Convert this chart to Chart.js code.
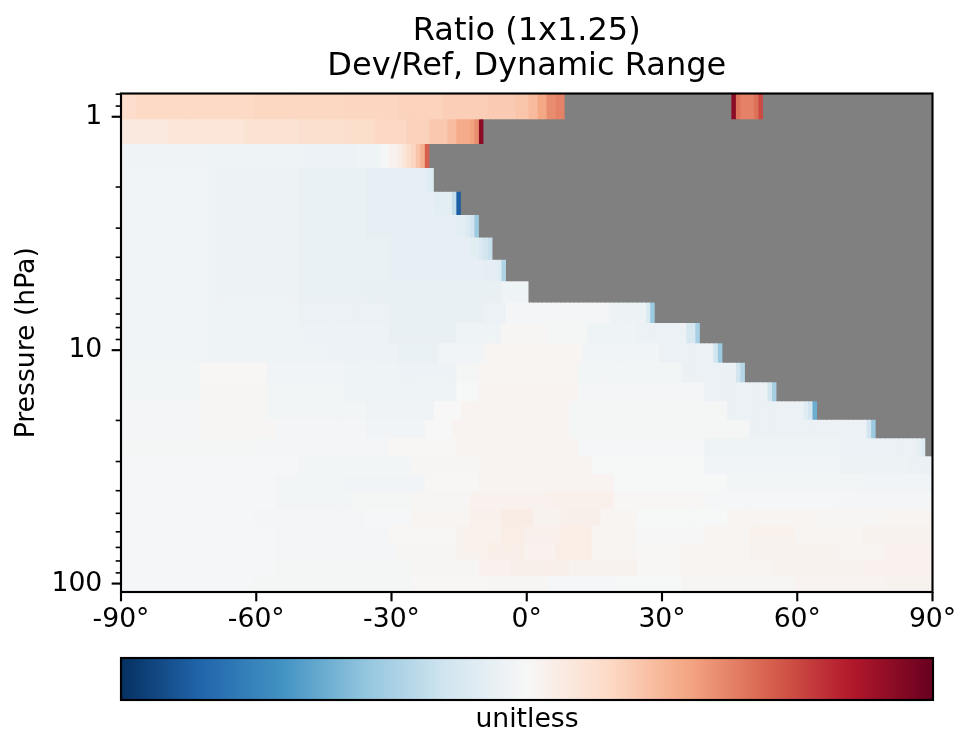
<!DOCTYPE html>
<html>
<head>
<meta charset="utf-8">
<script src="https://cdn.jsdelivr.net/npm/chart.js@4.4.1/dist/chart.umd.min.js"></script>
<style>
  html, body { margin: 0; padding: 0; background: #fff; }
  #wrap { position: relative; width: 957px; height: 739px; }
  #main { position: absolute; left: 0; top: 0; }
  #cbar { position: absolute; left: 0; top: 640px; }
</style>
</head>
<body>
<div id="wrap">
  <canvas id="main" width="957" height="640"></canvas>
  <canvas id="cbar" width="957" height="99"></canvas>
</div>
<script>
// ── DATA ─────────────────────────────────────────────────────────────────────

// pressure level edges (hPa), top of plot to bottom
var levelEdges = [0.7951, 1.0194, 1.3005, 1.6508, 2.0850, 2.6202, 3.2764, 4.0766, 5.0468,
  6.2168, 7.6198, 9.2929, 11.2769, 13.6434, 16.4571, 19.7916, 23.7304, 28.3678, 33.8100,
  40.1754, 47.6439, 56.3879, 66.6034, 78.5123, 92.3657, 108.663];

// Dev/Ref ratio along each level, as [from latitude, value] runs (null = no data)
var lev00 = [[-90,1.037],[-86,1.041],[-60,1.043],[-40,1.044],[-28,1.046],[-18,1.049],[-8,1.052],[-2,1.056],[1,1.064],[3,1.078],[5,1.094],[7,1.100],[9,null],[46,1.181],[47,1.110],[48,1.101],[51,1.110],[52,1.132],[53,null]];
var lev01 = [[-90,1.020],[-79,1.025],[-62,1.029],[-50,1.033],[-40,1.036],[-33,1.042],[-26,1.047],[-21,1.054],[-17,1.062],[-15,1.076],[-12,1.082],[-11,1.094],[-10,1.181],[-9,null]];
var lev02 = [[-90,0.992],[-70,0.990],[-50,0.988],[-37,0.990],[-32,0.998],[-30,1.008],[-28,1.016],[-27,1.026],[-26,1.036],[-25,1.044],[-24,1.057],[-23,1.072],[-22,1.120],[-21,null]];
var lev03 = [[-90,0.993],[-70,0.989],[-50,0.986],[-35,0.983],[-22,0.978],[-21,0.972],[-20,null]];
var lev04 = [[-90,0.993],[-70,0.989],[-50,0.986],[-35,0.983],[-20,0.979],[-16,0.953],[-15,0.835],[-14,null]];
var lev05 = [[-90,0.993],[-70,0.989],[-50,0.986],[-35,0.983],[-15,0.979],[-13,0.972],[-12,0.962],[-11,0.926],[-10,null]];
var lev06 = [[-90,0.993],[-70,0.989],[-50,0.986],[-30,0.983],[-12,0.979],[-10,0.970],[-9,0.962],[-8,0.954],[-7,null]];
var lev07 = [[-90,0.993],[-70,0.989],[-50,0.986],[-30,0.983],[-9,0.981],[-6,0.975],[-5,0.939],[-4,null]];
var lev08 = [[-90,0.993],[-70,0.989],[-50,0.986],[-35,0.984],[-10,0.985],[-5,0.990],[1,null]];
var lev09 = [[-90,0.994],[-70,0.990],[-50,0.987],[-30,0.984],[-9,0.987],[-4,0.996],[19,0.989],[27,0.972],[28,0.926],[29,null]];
var lev10 = [[-90,0.994],[-70,0.991],[-50,0.988],[-30,0.985],[-15,0.990],[-5,1.003],[5,0.997],[14,0.991],[25,0.987],[36,0.966],[38,0.934],[39,null]];
var lev11 = [[-90,0.994],[-70,0.991],[-45,0.988],[-28,0.986],[-19,0.993],[-9,1.004],[13,0.994],[30,0.987],[42,0.962],[43,0.926],[44,null]];
var lev12 = [[-90,0.995],[-72,1.002],[-57,0.993],[-40,0.990],[-28,0.988],[-15,0.997],[-10,1.005],[12,0.995],[35,0.987],[47,0.962],[48,0.942],[49,null]];
var lev13 = [[-90,0.995],[-72,1.003],[-57,0.995],[-40,0.991],[-28,0.990],[-15,0.999],[-10,1.006],[12,0.996],[40,0.987],[54,0.962],[55,0.933],[56,null]];
var lev14 = [[-90,0.996],[-72,1.003],[-57,0.995],[-35,0.992],[-20,1.000],[-14,1.006],[10,0.997],[45,0.987],[62,0.976],[63,0.962],[64,0.900],[65,null]];
var lev15 = [[-90,0.996],[-72,1.003],[-55,0.996],[-35,0.993],[-22,1.000],[-16,1.006],[10,0.997],[50,0.987],[76,0.962],[77,0.926],[78,null]];
var lev16 = [[-90,0.997],[-60,0.996],[-30,1.002],[-15,1.006],[12,0.998],[40,0.991],[70,0.987],[87,0.982],[88,0.974],[89,null]];
var lev17 = [[-90,0.998],[-50,0.995],[-25,1.003],[-10,1.006],[15,0.999],[40,0.994],[70,0.989],[85,0.987]];
var lev18 = [[-90,0.998],[-55,0.995],[-40,0.994],[-22,1.002],[-10,1.006],[20,0.999],[45,0.995],[75,0.993]];
var lev19 = [[-90,0.998],[-55,0.995],[-38,0.997],[-25,1.003],[-12,1.008],[5,1.010],[20,1.002],[40,0.998],[70,0.996]];
var lev20 = [[-90,0.998],[-60,0.996],[-35,0.998],[-25,1.005],[-12,1.010],[-5,1.016],[2,1.007],[8,1.011],[17,1.004],[25,0.999],[45,1.004],[65,1.003],[80,1.005]];
var lev21 = [[-90,0.998],[-55,0.996],[-30,1.002],[-15,1.009],[-5,1.015],[0,1.010],[8,1.014],[15,1.005],[25,1.001],[40,1.005],[50,1.009],[60,1.005],[75,1.007]];
var lev22 = [[-90,0.998],[-55,0.996],[-28,1.003],[-15,1.009],[-8,1.013],[0,1.008],[7,1.015],[15,1.005],[25,1.002],[35,1.005],[50,1.007],[70,1.005],[80,1.008]];
var lev23 = [[-90,0.998],[-55,0.997],[-25,1.003],[-10,1.008],[-3,1.012],[10,1.007],[25,1.002],[35,1.005],[55,1.007],[75,1.008]];
var lev24 = [[-90,0.998],[-60,0.997],[-25,1.002],[-8,1.003],[5,0.998],[20,0.999],[35,1.003],[60,1.006],[80,1.007]];

var levels = [lev00, lev01, lev02, lev03, lev04, lev05, lev06, lev07, lev08, lev09, lev10, lev11, lev12,
  lev13, lev14, lev15, lev16, lev17, lev18, lev19, lev20, lev21, lev22, lev23, lev24];

// axis ticks
var xTicks = [-90, -60, -30, 0, 30, 60, 90];
var yMajorTicks = [1, 10, 100];
var yMinorTicks = [0.8, 0.9, 2, 3, 4, 5, 6, 7, 8, 9, 20, 30, 40, 50, 60, 70, 80, 90];

// colour scale (RdBu_r), dynamic range around 1
var cbMin = 0.8, cbMax = 1.2;
var rdbuR = ['#053061', '#2166ac', '#4393c3', '#92c5de', '#d1e5f0', '#f7f7f7',
  '#fddbc7', '#f4a582', '#d6604d', '#b2182b', '#67001f'];

var FONT = 'DejaVu Sans';
var GREY = '#808080';
var PT = 192 / 72;   // matplotlib points -> px

// ── HELPERS ──────────────────────────────────────────────────────────────────

function hexRgb(h) {
  return [parseInt(h.substr(1, 2), 16), parseInt(h.substr(3, 2), 16), parseInt(h.substr(5, 2), 16)];
}
var rdbuRgb = rdbuR.map(hexRgb);

function colorOf(v) {
  if (v === null || v === undefined) return GREY;
  var t = (v - cbMin) / (cbMax - cbMin);
  t = Math.max(0, Math.min(1, t)) * (rdbuRgb.length - 1);
  var i = Math.min(Math.floor(t), rdbuRgb.length - 2);
  var f = t - i, a = rdbuRgb[i], b = rdbuRgb[i + 1];
  return 'rgb(' + Math.round(a[0] + (b[0] - a[0]) * f) + ',' +
    Math.round(a[1] + (b[1] - a[1]) * f) + ',' + Math.round(a[2] + (b[2] - a[2]) * f) + ')';
}

function valueAt(runs, lat) {
  var v = null;
  for (var i = 0; i < runs.length; i++) {
    if (runs[i][0] <= lat) v = runs[i][1];
    else break;
  }
  return v;
}

// 1 degree latitude cells
var lats = [];
for (var l = -90; l <= 90; l++) lats.push(l);

var datasets = levels.map(function(runs, k) {
  return {
    data: lats.map(function(lat) {
      return { x: lat, y: [levelEdges[k], levelEdges[k + 1]], v: valueAt(runs, lat) };
    }),
    backgroundColor: function(ctx) { return ctx.raw ? colorOf(ctx.raw.v) : GREY; },
    borderWidth: 0,
    grouped: false,
    categoryPercentage: 1,
    barPercentage: 1,
    inflateAmount: 0.5
  };
});

// spines and tick marks, matplotlib style
var frame = {
  id: 'frame',
  afterDraw: function(chart) {
    var c = chart.ctx, a = chart.chartArea, xs = chart.scales.x, ys = chart.scales.y;
    c.save();
    c.strokeStyle = '#000';
    function tick(x0, y0, x1, y1, w) {
      c.lineWidth = w;
      c.beginPath(); c.moveTo(x0, y0); c.lineTo(x1, y1); c.stroke();
    }
    yMajorTicks.forEach(function(v) {
      var y = ys.getPixelForValue(v);
      tick(a.left - 3.5 * PT, y, a.left, y, 0.8 * PT);
    });
    yMinorTicks.forEach(function(v) {
      var y = ys.getPixelForValue(v);
      tick(a.left - 2 * PT, y, a.left, y, 0.6 * PT);
    });
    xTicks.forEach(function(v) {
      var x = xs.getPixelForValue(v);
      tick(x, a.bottom, x, a.bottom + 3.5 * PT, 0.8 * PT);
    });
    c.lineWidth = 0.8 * PT;
    c.strokeRect(a.left, a.top, a.right - a.left, a.bottom - a.top);
    c.restore();
  }
};

function noPad(s) {
  s.paddingLeft = 0; s.paddingRight = 0; s.paddingTop = 0; s.paddingBottom = 0;
}

// ── MAIN PANEL ───────────────────────────────────────────────────────────────

new Chart(document.getElementById('main'), {
  type: 'bar',
  data: { datasets: datasets },
  options: {
    responsive: false,
    animation: false,
    events: [],
    layout: { padding: { left: 0, right: 24.5, top: 0, bottom: 0 } },
    plugins: {
      legend: { display: false },
      tooltip: { enabled: false },
      title: {
        display: true,
        fullSize: false,
        text: ['Ratio (1x1.25)', 'Dev/Ref, Dynamic Range'],
        color: '#000',
        font: { family: FONT, size: 12 * PT, weight: 'normal', lineHeight: 1.094 },
        padding: { top: 14.5, bottom: 9 }
      }
    },
    scales: {
      x: {
        type: 'linear',
        min: -90,
        max: 90,
        offset: false,
        afterBuildTicks: function(s) { s.ticks = xTicks.map(function(v) { return { value: v }; }); },
        afterFit: function(s) { s.height = 48; noPad(s); },
        ticks: {
          color: '#000',
          font: { family: FONT, size: 10 * PT },
          padding: 12,
          maxRotation: 0,
          autoSkip: false,
          callback: function(v) { return v + '°'; }
        },
        grid: { display: true, drawOnChartArea: false, drawTicks: false, offset: false },
        border: { display: false }
      },
      y: {
        type: 'logarithmic',
        reverse: true,
        min: levelEdges[0],
        max: levelEdges[levelEdges.length - 1],
        afterBuildTicks: function(s) {
          s.ticks = yMinorTicks.concat(yMajorTicks).map(function(v) { return { value: v }; });
        },
        afterFit: function(s) { s.width = 121; noPad(s); },
        ticks: {
          color: '#000',
          font: { family: FONT, size: 10 * PT },
          padding: 7 * PT,
          autoSkip: false,
          callback: function(v) { return yMajorTicks.indexOf(v) >= 0 ? String(v) : ''; }
        },
        grid: { display: true, drawOnChartArea: false, drawTicks: false },
        border: { display: false },
        title: {
          display: true,
          text: 'Pressure (hPa)',
          color: '#000',
          font: { family: FONT, size: 10 * PT },
          padding: { top: 11, bottom: 0 }
        }
      }
    }
  },
  plugins: [frame]
});

// ── COLORBAR ─────────────────────────────────────────────────────────────────

var cbFrame = {
  id: 'cbFrame',
  afterDraw: function(chart) {
    var c = chart.ctx, a = chart.chartArea;
    c.save();
    c.strokeStyle = '#000';
    c.lineWidth = 0.8 * PT;
    c.strokeRect(a.left, a.top, a.right - a.left, a.bottom - a.top);
    c.restore();
  }
};

new Chart(document.getElementById('cbar'), {
  type: 'bar',
  data: {
    labels: [''],
    datasets: [{
      data: [[cbMin, cbMax]],
      backgroundColor: function(ctx) {
        var chart = ctx.chart, xs = chart.scales.x;
        if (!chart.chartArea || !xs) return GREY;
        var g = chart.ctx.createLinearGradient(xs.getPixelForValue(cbMin), 0, xs.getPixelForValue(cbMax), 0);
        rdbuR.forEach(function(col, i) { g.addColorStop(i / (rdbuR.length - 1), col); });
        return g;
      },
      borderWidth: 0,
      categoryPercentage: 1,
      barPercentage: 1,
      inflateAmount: 0
    }]
  },
  options: {
    indexAxis: 'y',
    responsive: false,
    animation: false,
    events: [],
    layout: { padding: { left: 121, right: 24, top: 18, bottom: 0 } },
    plugins: { legend: { display: false }, tooltip: { enabled: false } },
    scales: {
      x: {
        type: 'linear',
        min: cbMin,
        max: cbMax,
        afterFit: function(s) { s.height = 39; noPad(s); },
        ticks: { display: false },
        grid: { display: false },
        border: { display: false },
        title: {
          display: true,
          text: 'unitless',
          color: '#000',
          font: { family: FONT, size: 10 * PT },
          padding: { top: 0, bottom: 2.5 }
        }
      },
      y: { display: false }
    }
  },
  plugins: [cbFrame]
});
</script>
</body>
</html>
